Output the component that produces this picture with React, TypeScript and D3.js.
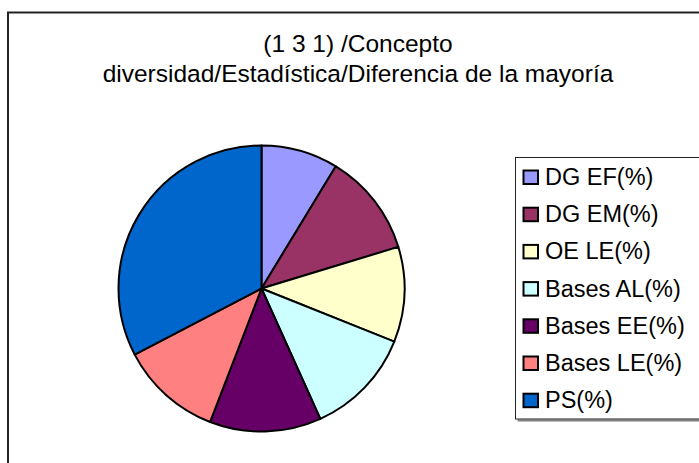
import React, { useEffect, useRef } from 'react';
import * as d3 from 'd3';

// categories and values (percent share)
const labels = ['DG EF(%)', 'DG EM(%)', 'OE LE(%)', 'Bases AL(%)', 'Bases EE(%)', 'Bases LE(%)', 'PS(%)'];
const values = [8.7, 11.6, 10.75, 12.2, 12.6, 11.5, 32.65];
const colors = ['#9999FF', '#993366', '#FFFFCC', '#CCFFFF', '#660066', '#FF8080', '#0066CC'];
const titleLines = ['(1 3 1) /Concepto', 'diversidad/Estadística/Diferencia de la mayoría'];

const W = 699;
const H = 463;

const App = () => {
  const svgRef = useRef<SVGSVGElement | null>(null);

  useEffect(() => {
    const svg = d3.select(svgRef.current);
    svg.selectAll('*').remove();

    const font = '"Liberation Sans", Arial, sans-serif';

    // chart area border (runs off the right / bottom)
    svg
      .append('path')
      .attr('d', `M 8,${H + 10} L 8,12.5 L ${W + 10},12.5`)
      .attr('fill', 'none')
      .attr('stroke', '#222')
      .attr('stroke-width', 2);

    // title
    svg
      .append('g')
      .selectAll('text')
      .data(titleLines)
      .join('text')
      .attr('x', 358)
      .attr('y', (d, i) => 52 + i * 30)
      .attr('text-anchor', 'middle')
      .style('font-family', font)
      .style('font-size', '24.5px')
      .style('fill', '#000')
      .text((d) => d);

    // pie
    const cx = 261.5;
    const cy = 288.5;
    const r = 143;
    const pie = d3.pie<number>().sort(null).value((d) => d);
    const arc = d3.arc<d3.PieArcDatum<number>>().innerRadius(0).outerRadius(r);

    svg
      .append('g')
      .attr('transform', `translate(${cx},${cy})`)
      .selectAll('path')
      .data(pie(values))
      .join('path')
      .attr('d', arc)
      .attr('fill', (d, i) => colors[i])
      .attr('stroke', '#000')
      .attr('stroke-width', 2)
      .attr('stroke-linejoin', 'round');

    // legend box with shadow on the bottom edge
    const lx = 515.5;
    const ly = 157.5;
    const lb = 419;
    svg
      .append('line')
      .attr('x1', lx + 2)
      .attr('x2', W + 10)
      .attr('y1', lb + 1.5)
      .attr('y2', lb + 1.5)
      .attr('stroke', '#808080')
      .attr('stroke-width', 2);
    svg
      .append('rect')
      .attr('x', lx)
      .attr('y', ly)
      .attr('width', W + 20 - lx)
      .attr('height', lb - ly)
      .attr('fill', '#fff')
      .attr('stroke', '#222')
      .attr('stroke-width', 1);

    const step = 37.2;
    const item = svg
      .append('g')
      .selectAll('g')
      .data(labels)
      .join('g')
      .attr('transform', (d, i) => `translate(0,${i * step})`);

    item
      .append('rect')
      .attr('x', 523.5)
      .attr('y', 170.5)
      .attr('width', 14.5)
      .attr('height', 13.5)
      .attr('fill', (d, i) => colors[i])
      .attr('stroke', '#000')
      .attr('stroke-width', 2);

    item
      .append('text')
      .attr('x', 545)
      .attr('y', 185)
      .style('font-family', font)
      .style('font-size', '23.5px')
      .style('fill', '#000')
      .text((d) => d);
  }, []);

  return (
    <div style={{ position: 'absolute', left: 0, top: 0 }}>
      <svg ref={svgRef} width={W} height={H} style={{ display: 'block', background: '#fff' }}></svg>
    </div>
  );
};

export default App;
